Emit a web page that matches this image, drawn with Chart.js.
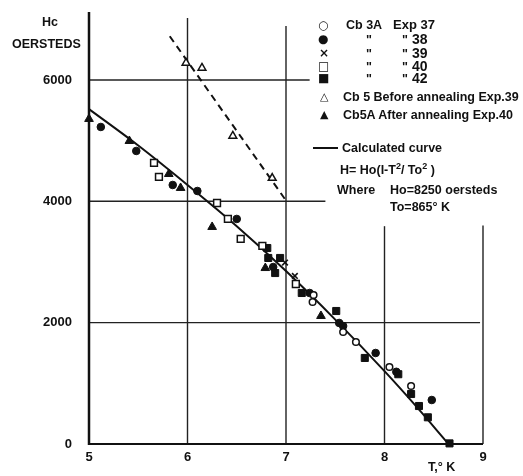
<!DOCTYPE html>
<html>
<head>
<meta charset="utf-8">
<script src="https://cdn.jsdelivr.net/npm/chart.js@4.4.1/dist/chart.umd.min.js"></script>
<style>
  html, body { margin: 0; padding: 0; background: #fff; }
  #wrap { position: relative; width: 523px; height: 476px; overflow: hidden; }
  canvas { position: absolute; left: 0; top: 0; }
  .t { position: absolute; font-family: "Liberation Sans", Arial, sans-serif; font-weight: bold; color: #111;
       white-space: nowrap; line-height: 14px; transform: translateY(-50%); font-size: 12.5px; }
  .sym { font-family: "DejaVu Sans", sans-serif; font-weight: bold; font-size: 12px; }
  .num { font-size: 14px; }
</style>
</head>
<body>
<div id="wrap">
  <canvas id="c" width="523" height="476"></canvas>

  <div class="t" style="left:42px;top:22px;font-size:12.5px;">Hc</div>
  <div class="t" style="left:12px;top:44px;font-size:12.5px;">OERSTEDS</div>
  <div class="t" style="left:428px;top:467px;font-size:12.5px;">T,° K</div>

  <div class="t sym" style="left:318px;top:25px;">○</div>
  <div class="t" style="left:346px;top:25px;">Cb 3A</div>
  <div class="t" style="left:393px;top:25px;font-size:13px;">Exp 37</div>

  <div class="t sym" style="left:318px;top:39px;">●</div>
  <div class="t" style="left:366px;top:40px;">"</div>
  <div class="t" style="left:402px;top:40px;">"</div>
  <div class="t num" style="left:412px;top:39px;">38</div>

  <div class="t sym" style="left:319px;top:53px;">×</div>
  <div class="t" style="left:366px;top:54px;">"</div>
  <div class="t" style="left:402px;top:54px;">"</div>
  <div class="t num" style="left:412px;top:53px;">39</div>

  <div class="t sym" style="left:318px;top:66px;">□</div>
  <div class="t" style="left:366px;top:67px;">"</div>
  <div class="t" style="left:402px;top:67px;">"</div>
  <div class="t num" style="left:412px;top:66px;">40</div>

  <div class="t sym" style="left:318px;top:78px;">■</div>
  <div class="t" style="left:366px;top:79px;">"</div>
  <div class="t" style="left:402px;top:79px;">"</div>
  <div class="t num" style="left:412px;top:78px;">42</div>

  <div class="t sym" style="left:320px;top:97px;font-size:11px;">△</div>
  <div class="t" style="left:343px;top:97px;">Cb 5 Before annealing Exp.39</div>

  <div class="t sym" style="left:320px;top:115px;font-size:11px;">▲</div>
  <div class="t" style="left:343px;top:115px;">Cb5A After annealing Exp.40</div>

  <div style="position:absolute;left:313px;top:147px;width:25px;height:2px;background:#111;"></div>
  <div class="t" style="left:342px;top:148px;">Calculated curve</div>
  <div class="t" style="left:340px;top:168px;">H= Ho(I-T<sup style="font-size:9px;">2</sup>/ To<sup style="font-size:9px;">2</sup> )</div>
  <div class="t" style="left:337px;top:190px;">Where</div>
  <div class="t" style="left:390px;top:190px;">Ho=8250 oersteds</div>
  <div class="t" style="left:390px;top:207px;">To=865° K</div>
</div>

<script>
// ---- data ----
const xTickValues = [5, 6, 7, 8, 9];
const yTickValues = [0, 2000, 4000, 6000];

const exp37T = [7.27, 7.28, 7.58, 7.71, 8.05, 8.27];
const exp37H = [2340, 2456, 1846, 1681, 1269, 956];

const exp38T = [5.12, 5.48, 5.85, 6.10, 6.50, 6.87, 7.24, 7.54, 7.58, 7.91, 8.12, 8.48];
const exp38H = [5225, 4830, 4269, 4170, 3709, 2917, 2489, 1995, 1945, 1500, 1190, 725];

const exp39T = [6.99, 7.09];
const exp39H = [2990, 2770];

const exp40T = [5.66, 5.71, 6.30, 6.41, 6.54, 6.76, 7.10];
const exp40H = [4632, 4401, 3972, 3709, 3380, 3264, 2637];

const exp42T = [6.81, 6.82, 6.94, 6.89, 7.16, 7.51, 7.80, 8.14, 8.27, 8.35, 8.44, 8.66];
const exp42H = [3230, 3066, 3066, 2818, 2489, 2192, 1418, 1150, 824, 626, 440, 10];

const cb5T = [5.985, 6.147, 6.46, 6.86];
const cb5H = [6280, 6198, 5077, 4384];

const cb5aT = [5.00, 5.41, 5.81, 5.93, 6.25, 6.79, 7.355];
const cb5aH = [5357, 4994, 4450, 4220, 3577, 2900, 2110];

const calcT = [5, 5.5, 6, 6.5, 7, 7.5, 8, 8.3, 8.65];
const calcH = [5520, 4920, 4270, 3590, 2850, 2050, 1200, 660, 0];

const dashT = [5.82, 7.01];
const dashH = [6720, 3990];

// grid-line extents (data units)
const hGridY = [6000, 4000, 2000];
const hGridEnd = [7.24, 7.40, 8.97];
const vGridX = [6, 7, 8, 9];
const vGridTop = [7020, 6890, 3590, 3600];

const pts = (xs, ys) => xs.map((x, i) => ({ x: x, y: ys[i] }));

const ink = '#111';

const gridPlugin = {
  id: 'customGrid',
  beforeDatasetsDraw(chart) {
    const { ctx, scales: { x, y } } = chart;
    ctx.save();
    ctx.strokeStyle = '#222';
    ctx.lineWidth = 1.4;
    hGridY.forEach((v, i) => {
      ctx.beginPath();
      ctx.moveTo(x.getPixelForValue(5), y.getPixelForValue(v));
      ctx.lineTo(x.getPixelForValue(hGridEnd[i]), y.getPixelForValue(v));
      ctx.stroke();
    });
    vGridX.forEach((v, i) => {
      ctx.beginPath();
      ctx.moveTo(x.getPixelForValue(v), y.getPixelForValue(0));
      ctx.lineTo(x.getPixelForValue(v), y.getPixelForValue(vGridTop[i]));
      ctx.stroke();
    });
    // axes
    ctx.strokeStyle = ink;
    ctx.lineWidth = 2.5;
    ctx.beginPath();
    ctx.moveTo(x.getPixelForValue(5), y.getPixelForValue(0) + 1);
    ctx.lineTo(x.getPixelForValue(5), y.getPixelForValue(y.max));
    ctx.stroke();
    ctx.lineWidth = 2;
    ctx.beginPath();
    ctx.moveTo(x.getPixelForValue(5), y.getPixelForValue(0));
    ctx.lineTo(x.getPixelForValue(9), y.getPixelForValue(0));
    ctx.stroke();
    ctx.restore();
  }
};

const tickFont = { family: '"Liberation Sans", Arial, sans-serif', size: 13, weight: 'bold' };

new Chart(document.getElementById('c'), {
  type: 'scatter',
  data: {
    datasets: [
      { label: 'Exp 37', data: pts(exp37T, exp37H), pointStyle: 'circle', radius: 3.3,
        backgroundColor: '#fff', borderColor: ink, borderWidth: 1.5, order: 1, clip: false },
      { label: 'Exp 38', data: pts(exp38T, exp38H), pointStyle: 'circle', radius: 3.8,
        backgroundColor: ink, borderColor: ink, borderWidth: 1, order: 1, clip: false },
      { label: 'Exp 39', data: pts(exp39T, exp39H), pointStyle: 'crossRot', radius: 4,
        backgroundColor: ink, borderColor: ink, borderWidth: 1.6, order: 1, clip: false },
      { label: 'Exp 40', data: pts(exp40T, exp40H), pointStyle: 'rect', radius: 4.8,
        backgroundColor: '#fff', borderColor: ink, borderWidth: 1.5, order: 1, clip: false },
      { label: 'Exp 42', data: pts(exp42T, exp42H), pointStyle: 'rect', radius: 5,
        backgroundColor: ink, borderColor: ink, borderWidth: 1, order: 1, clip: false },
      { label: 'Cb 5', data: pts(cb5T, cb5H), pointStyle: 'triangle', radius: 4.5,
        backgroundColor: '#fff', borderColor: ink, borderWidth: 1.5, order: 1, clip: false },
      { label: 'Cb5A', data: pts(cb5aT, cb5aH), pointStyle: 'triangle', radius: 5,
        backgroundColor: ink, borderColor: ink, borderWidth: 1, order: 1, clip: false },
      { label: 'Calculated', type: 'line', data: pts(calcT, calcH), showLine: true,
        borderColor: ink, borderWidth: 2, pointRadius: 0, tension: 0.4,
        cubicInterpolationMode: 'monotone', fill: false, order: 5, clip: false },
      { label: 'Dashed', type: 'line', data: pts(dashT, dashH), showLine: true,
        borderColor: ink, borderWidth: 2, borderDash: [7, 5], pointRadius: 0,
        fill: false, order: 5, clip: false }
    ]
  },
  options: {
    responsive: false,
    animation: false,
    layout: { padding: { top: 12, right: 40, left: 0, bottom: 0 } },
    plugins: { legend: { display: false }, tooltip: { enabled: false } },
    scales: {
      x: {
        type: 'linear', min: 5, max: 9,
        grid: { display: false, drawTicks: false },
        border: { display: false },
        afterBuildTicks: (s) => { s.ticks = xTickValues.map(v => ({ value: v })); },
        afterFit: (s) => { s.height = 32; s.paddingLeft = 0; s.paddingRight = 0; },
        ticks: { color: ink, font: tickFont, padding: 6, maxRotation: 0, autoSkip: false,
                 callback: (v) => String(v) }
      },
      y: {
        type: 'linear', min: 0, max: 7120,
        grid: { display: false, drawTicks: false },
        border: { display: false },
        afterBuildTicks: (s) => { s.ticks = yTickValues.map(v => ({ value: v })); },
        afterFit: (s) => { s.width = 89; s.paddingTop = 0; s.paddingBottom = 0; },
        ticks: { color: ink, font: tickFont, padding: 17, autoSkip: false,
                 callback: (v) => String(v) }
      }
    }
  },
  plugins: [gridPlugin]
});
</script>
</body>
</html>
